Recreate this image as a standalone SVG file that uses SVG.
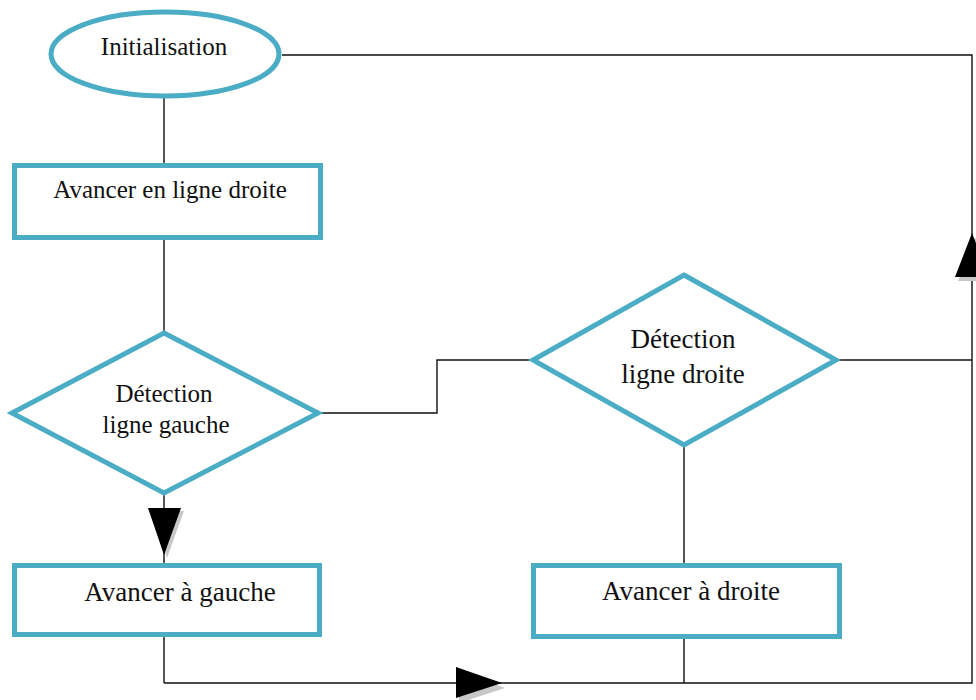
<svg xmlns="http://www.w3.org/2000/svg" width="976" height="700" viewBox="0 0 976 700">
<style>
.shape{fill:#fff;stroke:#4bacc6;stroke-width:5}
.lbl{font-family:"Liberation Serif","Times New Roman",serif;fill:#111;text-anchor:middle}
.conn{fill:none;stroke:#111;stroke-width:1.4}
.ah{fill:#000}
.sh{fill:#c8c8c8}
</style>
<rect width="976" height="700" fill="#fff"/>
<g id="connectors">
<polyline class="conn" points="282,55 972,55 972,683 164,683"/>
<line class="conn" x1="164" y1="98" x2="164" y2="163"/>
<line class="conn" x1="164" y1="240" x2="164" y2="333"/>
<line class="conn" x1="164" y1="493" x2="164" y2="563"/>
<line class="conn" x1="164" y1="636" x2="164" y2="683"/>
<polyline class="conn" points="318,413 437,413 437,360 533,360"/>
<line class="conn" x1="836" y1="360" x2="972" y2="360"/>
<line class="conn" x1="684" y1="445" x2="684" y2="563"/>
<line class="conn" x1="684" y1="639" x2="684" y2="683"/>
<polygon class="sh" points="975,237 992,281 958,281"/>
<polygon class="ah" points="972,233 989,277 955,277"/>
<polygon class="sh" points="151,511 184,511 167,558"/>
<polygon class="ah" points="148,508 181,508 164,555"/>
<polygon class="sh" points="459,671 505,688 459,703"/>
<polygon class="ah" points="456,667 502,683 456,698"/>
</g>
<g id="init">
<ellipse class="shape" cx="165" cy="54" rx="114" ry="42" stroke-width="4.5"/>
<text class="lbl" x="164" y="55" font-size="25">Initialisation</text>
</g>
<g id="avancer-droit">
<rect class="shape" x="14.5" y="165.5" width="306" height="72"/>
<text class="lbl" x="170" y="198" font-size="25">Avancer en ligne droite</text>
</g>
<g id="detect-gauche">
<polygon class="shape" points="164,333 318,413 164,493 12,413"/>
<text class="lbl" x="164" y="402" font-size="25">Détection</text>
<text class="lbl" x="166" y="433" font-size="25">ligne gauche</text>
</g>
<g id="detect-droite">
<polygon class="shape" points="684,275 836,360 684,445 533,360"/>
<text class="lbl" x="683" y="348" font-size="27">Détection</text>
<text class="lbl" x="683" y="383" font-size="27">ligne droite</text>
</g>
<g id="avancer-gauche">
<rect class="shape" x="14.5" y="565.5" width="305" height="69"/>
<text class="lbl" x="180" y="601" font-size="27">Avancer à gauche</text>
</g>
<g id="avancer-droite">
<rect class="shape" x="533.5" y="565.5" width="306" height="71"/>
<text class="lbl" x="691" y="600" font-size="27">Avancer à droite</text>
</g>
</svg>
